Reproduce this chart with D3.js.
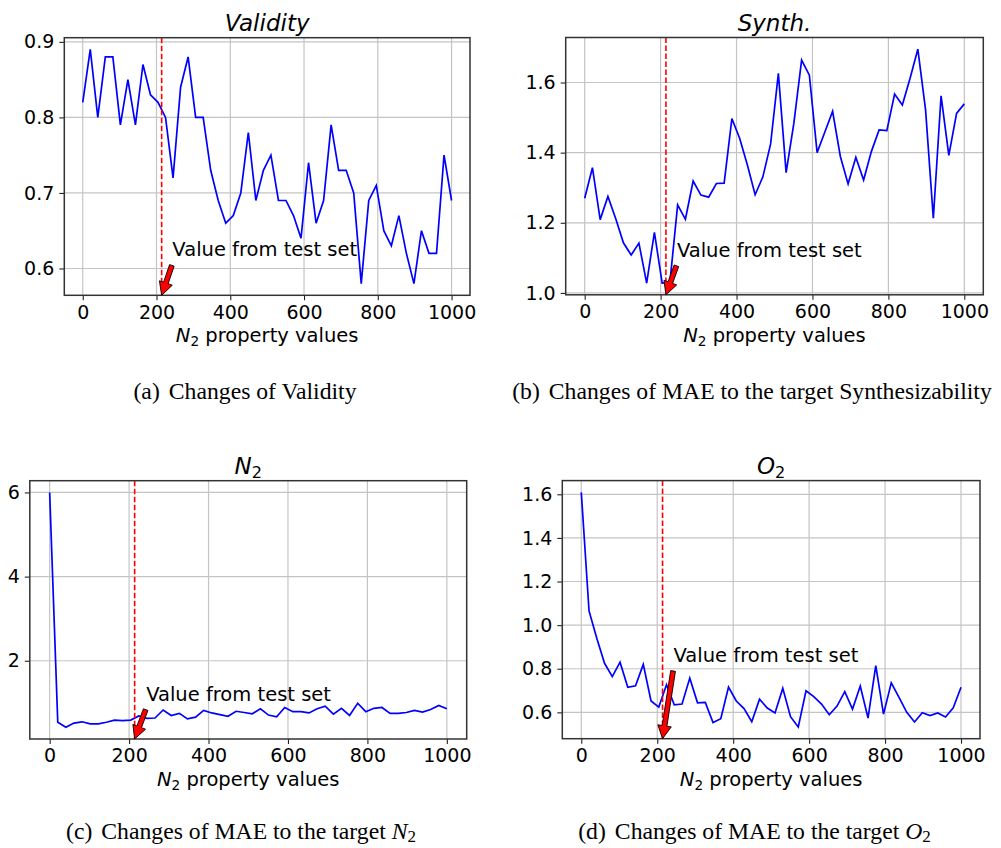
<!DOCTYPE html>
<meta charset="utf-8">
<script src="https://d3js.org/d3.v7.min.js"></script>
<style>
body { margin: 0; background: #fff; }
text { font-family: "DejaVu Sans", sans-serif; fill: #000; }
.grid line { stroke: #c4c4c4; stroke-width: 1.2px; }
.caption { font-family: "Liberation Serif", "Times New Roman", serif; font-size: 23.7px; }
</style>
<body>
<script>
// x values: 50 evenly spaced N2 property values between 0 and 1000
var xValues = d3.range(50).map(function(i) { return i * 1000 / 49; });

var validity = [0.82, 0.89, 0.80, 0.88, 0.88, 0.79, 0.85, 0.79, 0.87, 0.83,
    0.82, 0.80, 0.72, 0.84, 0.88, 0.80, 0.80, 0.73, 0.69, 0.66,
    0.67, 0.70, 0.78, 0.69, 0.73, 0.75, 0.69, 0.69, 0.67, 0.64,
    0.74, 0.66, 0.69, 0.79, 0.73, 0.73, 0.70, 0.58, 0.69, 0.71,
    0.65, 0.63, 0.67, 0.62, 0.58, 0.65, 0.62, 0.62, 0.75, 0.69];

var synth = [1.270, 1.357, 1.209, 1.275, 1.212, 1.143, 1.108, 1.142, 1.028, 1.173,
    1.028, 1.030, 1.251, 1.210, 1.319, 1.279, 1.273, 1.312, 1.313, 1.497,
    1.441, 1.365, 1.280, 1.331, 1.425, 1.626, 1.343, 1.484, 1.664, 1.621,
    1.400, 1.459, 1.518, 1.389, 1.311, 1.387, 1.322, 1.403, 1.465, 1.463,
    1.567, 1.536, 1.612, 1.695, 1.522, 1.213, 1.562, 1.392, 1.512, 1.539];

var maeN2 = [6.00, 0.54, 0.42, 0.52, 0.55, 0.50, 0.50, 0.54, 0.59, 0.58,
    0.59, 0.69, 0.63, 0.64, 0.83, 0.70, 0.75, 0.62, 0.66, 0.82,
    0.76, 0.72, 0.68, 0.80, 0.77, 0.74, 0.86, 0.71, 0.67, 0.89,
    0.79, 0.79, 0.76, 0.86, 0.92, 0.73, 0.87, 0.70, 0.99, 0.79,
    0.87, 0.89, 0.75, 0.75, 0.77, 0.82, 0.78, 0.84, 0.94, 0.86];

var maeO2 = [1.609, 1.065, 0.940, 0.825, 0.764, 0.830, 0.715, 0.722, 0.820, 0.652,
    0.624, 0.727, 0.635, 0.638, 0.757, 0.644, 0.646, 0.553, 0.571, 0.716,
    0.652, 0.617, 0.557, 0.660, 0.620, 0.597, 0.710, 0.580, 0.533, 0.699,
    0.672, 0.638, 0.589, 0.629, 0.695, 0.615, 0.721, 0.574, 0.814, 0.592,
    0.735, 0.669, 0.600, 0.556, 0.598, 0.585, 0.597, 0.579, 0.621, 0.715];

var xTicks = [0, 200, 400, 600, 800, 1000];
var yTicksValidity = [0.6, 0.7, 0.8, 0.9];
var yTicksSynth = [1.0, 1.2, 1.4, 1.6];
var yTicksN2 = [2, 4, 6];
var yTicksO2 = [0.6, 0.8, 1.0, 1.2, 1.4, 1.6];

var testValue = 214;        // value from test set (red dashed line)
var annotText = 'Value from test set';
var annotX = 243;
var annotY = [0.616, 1.103, 1.053, 0.831];

var captions = ['(a)', '(b)', '(c)', '(d)'];

var svg = d3.select('body').append('svg')
    .attr('width', 1001)
    .attr('height', 848);

// matplotlib-like 5% margin around data extent
function padded(ext) {
    var m = (ext[1] - ext[0]) * 0.05;
    return [ext[0] - m, ext[1] + m];
}

function mathLabel(sel, base, rest, size) {
    // italic letter + subscript 2 (mathtext style), then the rest
    sel.append('tspan').style('font-style', 'italic').text(base);
    sel.append('tspan').attr('dy', size * 0.2).style('font-size', (size * 0.7) + 'px').text('2');
    if (rest) sel.append('tspan').attr('dy', -size * 0.2).text(rest);
}

function drawPanel(cfg) {
    var g = svg.append('g');
    var x = d3.scaleLinear().domain(padded([0, 1000])).range([cfg.left, cfg.right]);
    var y = d3.scaleLinear().domain(padded(d3.extent(cfg.values))).range([cfg.bottom, cfg.top]);

    // grid
    var grid = g.append('g').attr('class', 'grid');
    grid.selectAll('.gx').data(xTicks).enter().append('line')
        .attr('x1', function(d) { return x(d); }).attr('x2', function(d) { return x(d); })
        .attr('y1', cfg.top).attr('y2', cfg.bottom);
    grid.selectAll('.gy').data(cfg.yTicks).enter().append('line')
        .attr('y1', function(d) { return y(d); }).attr('y2', function(d) { return y(d); })
        .attr('x1', cfg.left).attr('x2', cfg.right);

    // axes
    var xAxis = d3.axisBottom(x).tickValues(xTicks).tickSize(5).tickPadding(5).tickFormat(d3.format('d'));
    var yAxis = d3.axisLeft(y).tickValues(cfg.yTicks).tickSize(5).tickPadding(5).tickFormat(cfg.fmt);
    var gx = g.append('g').attr('transform', 'translate(0,' + cfg.bottom + ')').call(xAxis);
    var gy = g.append('g').attr('transform', 'translate(' + cfg.left + ',0)').call(yAxis);
    [gx, gy].forEach(function(a) {
        a.select('.domain').remove();
        a.selectAll('line').attr('stroke', '#222').attr('stroke-width', 1.1);
        a.selectAll('text').style('font-size', '19px').attr('fill', '#000');
    });

    // data line
    var line = d3.line()
        .x(function(d, i) { return x(xValues[i]); })
        .y(function(d) { return y(d); });
    g.append('path')
        .datum(cfg.values)
        .attr('d', line)
        .attr('fill', 'none')
        .attr('stroke', '#0000ff')
        .attr('stroke-width', 1.7)
        .attr('stroke-linejoin', 'miter');

    // red dashed line at test value
    g.append('line')
        .attr('x1', x(testValue)).attr('x2', x(testValue))
        .attr('y1', cfg.top).attr('y2', cfg.bottom)
        .attr('stroke', '#ff0000').attr('stroke-width', 1.6)
        .attr('stroke-dasharray', '5.5,2.5');

    // frame
    g.append('rect')
        .attr('x', cfg.left).attr('y', cfg.top)
        .attr('width', cfg.right - cfg.left).attr('height', cfg.bottom - cfg.top)
        .attr('fill', 'none').attr('stroke', '#333').attr('stroke-width', 1.5);

    // annotation text + arrow
    var tx = x(annotX), ty = y(cfg.annotY);
    g.append('text').attr('x', tx).attr('y', ty).style('font-size', '19.5px').text(annotText);

    var x0 = tx - 0.5, y0 = ty + 9;
    var x1 = x(testValue), y1 = y.range()[0];
    var dx = x1 - x0, dy = y1 - y0, len = Math.sqrt(dx * dx + dy * dy);
    var ux = dx / len, uy = dy / len, px = -uy, py = ux;
    var sw = 2.4, hw = 6.8, hl = 13;
    var bx = x1 - ux * hl, by = y1 - uy * hl;
    var pts = [
        [x0 + px * sw, y0 + py * sw],
        [bx + px * sw, by + py * sw],
        [bx + px * hw, by + py * hw],
        [x1, y1],
        [bx - px * hw, by - py * hw],
        [bx - px * sw, by - py * sw],
        [x0 - px * sw, y0 - py * sw]
    ];
    g.append('path')
        .attr('d', 'M' + pts.map(function(p) { return p.join(','); }).join('L') + 'Z')
        .attr('fill', '#ff0000').attr('stroke', '#000').attr('stroke-width', 0.9)
        .attr('stroke-linejoin', 'miter');

    // title
    var cx = (cfg.left + cfg.right) / 2;
    var title = g.append('text').attr('x', cx).attr('y', cfg.top - 7)
        .attr('text-anchor', 'middle').style('font-size', '23px');
    if (cfg.titleSub) mathLabel(title, cfg.title, null, 23);
    else title.style('font-style', 'italic').text(cfg.title);

    // x label
    var xl = g.append('text').attr('x', cx).attr('y', cfg.bottom + 47)
        .attr('text-anchor', 'middle').style('font-size', '19.5px');
    mathLabel(xl, 'N', ' property values', 19.5);

    // caption
    var cap = svg.append('text').attr('class', 'caption')
        .attr('x', cfg.capX).attr('y', cfg.capY).attr('text-anchor', 'middle');
    cap.append('tspan').text(cfg.cap);
    cap.append('tspan').attr('dx', 9).text(cfg.capText);
    if (cfg.capSub) {
        cap.append('tspan').style('font-style', 'italic').text(cfg.capSub);
        cap.append('tspan').attr('dy', 3).style('font-size', '17px').text('2');
    }
}

drawPanel({values: validity, yTicks: yTicksValidity, fmt: d3.format('.1f'),
    left: 64.3, right: 470, top: 37.7, bottom: 295.3, annotY: annotY[0],
    title: 'Validity', cap: captions[0], capText: 'Changes of Validity', capX: 245, capY: 399});
drawPanel({values: synth, yTicks: yTicksSynth, fmt: d3.format('.1f'),
    left: 565.7, right: 983.3, top: 37.5, bottom: 294.8, annotY: annotY[1],
    title: 'Synth.', cap: captions[1], capText: 'Changes of MAE to the target Synthesizability', capX: 752, capY: 399});
drawPanel({values: maeN2, yTicks: yTicksN2, fmt: d3.format('d'),
    left: 29.8, right: 466.7, top: 480.7, bottom: 739, annotY: annotY[2],
    title: 'N', titleSub: true, cap: captions[2], capText: 'Changes of MAE to the target ', capSub: 'N', capX: 241, capY: 839});
drawPanel({values: maeO2, yTicks: yTicksO2, fmt: d3.format('.1f'),
    left: 562.3, right: 980, top: 480.6, bottom: 738.7, annotY: annotY[3],
    title: 'O', titleSub: true, cap: captions[3], capText: 'Changes of MAE to the target ', capSub: 'O', capX: 754.5, capY: 839});
</script>
</body>
</html>
